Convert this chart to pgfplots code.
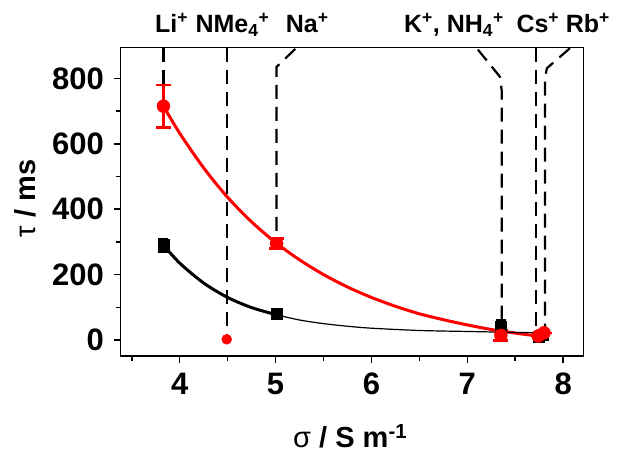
\documentclass[border=0pt]{standalone}
\usepackage{fontspec}
\setmainfont{Liberation Sans}
\usepackage{pgfplots}
\pgfplotsset{compat=1.18}

\begin{document}
\fontsize{29}{33}\selectfont\bfseries
\begin{tikzpicture}
\useasboundingbox (0,0) rectangle (624pt,462pt);
\begin{axis}[
  at={(120.7pt,106pt)}, anchor=south west,
  scale only axis, width=462.6pt, height=308.7pt,
  xmin=3.384, xmax=8.21, ymin=-49, ymax=895,
  axis line style={line width=1.5pt},
  xtick={4,5,6,7,8}, minor xtick={3.5,4.5,5.5,6.5,7.5},
  ytick={0,200,400,600,800}, minor ytick={100,300,500,700},
  tick align=outside, tick pos=left,
  major tick length=7pt, minor tick length=5pt,
  every tick/.style={line width=1.5pt, black},
  /pgf/number format/assume math mode=true,
  ticklabel style={font=\fontsize{31}{35}\selectfont\bfseries},
  clip=false,
]
% fitted curves
\addplot[red, line width=3pt, smooth] coordinates {
(3.83,715) (4.0,632) (4.25,526) (4.5,436) (4.75,361) (5.0,298) (5.25,245) (5.5,200) (5.75,162) (6.0,130) (6.25,103) (6.5,80) (6.75,62) (7.0,46) (7.25,32) (7.5,21) (7.74,12)};
\addplot[black, line width=3pt, smooth] coordinates {
(3.83,290) (4.0,235) (4.25,174) (4.5,130) (4.75,99) (5.01,77)};
\addplot[black, line width=1.2pt, smooth] coordinates {
(5.01,77) (5.25,61) (5.5,50) (5.75,42) (6.0,36) (6.5,29) (7.0,26) (7.35,24) (7.74,22)};
% dashed guide lines
\addplot[black, line width=2.2pt, dash pattern=on 14pt off 8pt] coordinates {(3.83,893) (3.83,780)};
\addplot[black, line width=2.2pt, dash pattern=on 14pt off 8pt] coordinates {(4.49,893) (4.49,10)};
\addplot[black, line width=2.2pt, dash pattern=on 14pt off 8pt] coordinates {(5.205,890) (5.01,835) (5.01,300)};
\addplot[black, line width=2.2pt, dash pattern=on 14pt off 8pt] coordinates {(7.11,888) (7.34,805) (7.36,760) (7.36,60)};
\addplot[black, line width=2.2pt, dash pattern=on 14pt off 8pt] coordinates {(7.72,893) (7.72,20)};
\addplot[black, line width=2.2pt, dash pattern=on 14pt off 8pt] coordinates {(8.07,892) (7.83,831) (7.81,800) (7.81,25)};
% black data
\addplot[only marks, mark=square*, mark size=5.5pt, black,
  error bars/.cd, y dir=both, y explicit,
  error bar style={line width=2pt, black},
  error mark options={rotate=90, mark size=5pt, line width=2pt}]
  coordinates {(3.83,290) +- (0,20) (5.01,79) +- (0,0) (7.35,40) +- (0,20) (7.74,10) +- (0,0) (7.79,15) +- (0,0)};
% red data
\addplot[only marks, mark=*, mark size=6.5pt, red,
  error bars/.cd, y dir=both, y explicit,
  error bar style={line width=2.5pt, red},
  error mark options={rotate=90, mark size=7.5pt, line width=2.5pt}]
  coordinates {(3.83,715) +- (0,65) (5.01,295) +- (0,15) (7.35,14) +- (0,15) (7.74,12) +- (0,0) (7.8,22) +- (0,0)};
\addplot[only marks, mark=*, mark size=5pt, red] coordinates {(4.49,2)};
% ion labels
\begin{scope}[every node/.style={font=\fontsize{25}{29}\selectfont\bfseries, anchor=base, yshift=14.3pt}]
\node at (axis cs:3.914,895) {Li\textsuperscript{+}};
\node at (axis cs:4.549,895) {NMe\textsubscript{4}\textsuperscript{+}};
\node at (axis cs:5.33,895) {Na\textsuperscript{+}};
\node at (axis cs:6.861,895) {K\textsuperscript{+}, NH\textsubscript{4}\textsuperscript{+}};
\node at (axis cs:7.736,895) {Cs\textsuperscript{+}};
\node at (axis cs:8.257,895) {Rb\textsuperscript{+}};
\end{scope}
% axis labels
\node[rotate=90, anchor=center] at (axis description cs:-0.207,0.51) {{\mdseries τ} / ms};
\node[anchor=base] at (axis description cs:0.496,-0.298) {{\mdseries σ} / S m\textsuperscript{-1}};
\end{axis}
\end{tikzpicture}
\end{document}
